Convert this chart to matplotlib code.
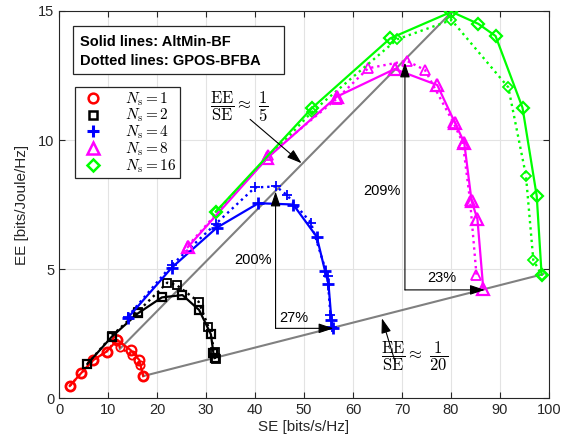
import matplotlib
matplotlib.use("Agg")
import matplotlib.pyplot as plt
from matplotlib.patches import Rectangle

plt.rcParams['font.family'] = ['Liberation Sans', 'DejaVu Sans']
plt.rcParams['mathtext.fontset'] = 'cm'

# ---- data (SE, EE) ----
# Ns = 1
r_sol_x = [2.2, 4.5, 7.0, 9.7, 11.9, 14.6, 16.4, 17.2]
r_sol_y = [0.47, 0.96, 1.47, 1.80, 2.25, 1.86, 1.47, 0.85]
r_dot_x = [2.2, 4.5, 7.0, 9.7, 11.9, 12.4, 14.8, 16.5, 17.2]
r_dot_y = [0.47, 0.96, 1.47, 1.80, 2.30, 1.96, 1.67, 1.28, 0.85]
# Ns = 2
k_sol_x = [5.8, 10.8, 16.1, 21.0, 25.2, 28.6, 31.0, 31.5, 31.8]
k_sol_y = [1.32, 2.38, 3.28, 3.90, 3.99, 3.41, 2.47, 1.76, 1.55]
k_dot_x = [5.8, 10.8, 16.1, 22.1, 24.0, 28.5, 30.5, 31.8, 32.0]
k_dot_y = [1.32, 2.42, 3.35, 4.47, 4.38, 3.73, 2.76, 1.80, 1.50]
# Ns = 4
b_sol_x = [14.0, 23.0, 32.2, 40.7, 47.8, 52.6, 54.3, 55.0, 55.6, 56.0]
b_sol_y = [3.10, 5.05, 6.60, 7.55, 7.50, 6.25, 4.92, 4.42, 3.02, 2.70]
b_dot_x = [14.0, 23.0, 32.0, 40.0, 44.3, 46.5, 51.4, 54.8, 55.4, 55.8]
b_dot_y = [3.15, 5.15, 6.75, 8.16, 8.20, 7.87, 6.80, 4.73, 3.20, 2.75]
# Ns = 8
m_sol_x = [26.3, 42.5, 56.7, 68.5, 77.2, 80.8, 82.7, 84.2, 85.4, 86.6]
m_sol_y = [5.85, 9.30, 11.68, 12.75, 12.13, 10.67, 9.90, 7.64, 6.93, 4.21]
m_dot_x = [26.3, 42.7, 56.7, 63.1, 71.0, 74.7, 80.5, 82.4, 83.9, 85.2]
m_dot_y = [5.90, 9.40, 11.60, 12.78, 13.07, 12.71, 10.67, 9.90, 7.64, 4.77]
# Ns = 16
g_sol_x = [32.0, 51.7, 67.6, 80.1, 85.6, 89.1, 94.6, 97.5, 98.5]
g_sol_y = [7.22, 11.25, 13.94, 14.97, 14.50, 14.03, 11.25, 7.83, 4.77]
g_dot_x = [32.0, 51.7, 69.0, 80.1, 91.7, 95.3, 96.8, 98.5]
g_dot_y = [7.22, 11.10, 13.90, 14.65, 12.04, 8.62, 5.35, 4.77]

# reference lines
line5_x = [12.4, 80.1]
line5_y = [1.90, 14.95]
line20_x = [17.2, 98.8]
line20_y = [0.85, 4.80]

labels = [r'$N_\mathrm{s} = 1$', r'$N_\mathrm{s} = 2$', r'$N_\mathrm{s} = 4$',
          r'$N_\mathrm{s} = 8$', r'$N_\mathrm{s} = 16$']

fig = plt.figure(figsize=(5.63, 4.47), dpi=100)
ax = fig.add_axes([0.1048, 0.1096, 0.8703, 0.8658])

ax.plot(line5_x, line5_y, color='#808080', lw=1.5, zorder=1)
ax.plot(line20_x, line20_y, color='#808080', lw=1.5, zorder=1)

series = [
    (r_sol_x, r_sol_y, r_dot_x, r_dot_y, '#ff0000', 'o'),
    (k_sol_x, k_sol_y, k_dot_x, k_dot_y, '#000000', 's'),
    (b_sol_x, b_sol_y, b_dot_x, b_dot_y, '#0000ff', '+'),
    (m_sol_x, m_sol_y, m_dot_x, m_dot_y, '#ff00ff', '^'),
    (g_sol_x, g_sol_y, g_dot_x, g_dot_y, '#00ff00', 'D'),
]
sizes = {'o': 7, 's': 6, '+': 9, '^': 8, 'D': 6}
mews = {'o': 1.6, 's': 1.6, '+': 2.0, '^': 1.6, 'D': 1.6}
handles = []
for (sx, sy, dx, dy, c, mk), lab in zip(series, labels):
    ms = sizes[mk]
    ax.plot(dx, dy, ls=':', color=c, lw=1.7, marker=mk, ms=ms * 0.85,
            mfc='none', mec=c, mew=1.3, zorder=2)
    ax.plot(sx, sy, ls='-', color=c, lw=1.6, marker=mk, ms=ms,
            mfc='none', mec=c, mew=mews[mk], zorder=3)
    h, = ax.plot([], [], ls='none', marker=mk, ms=ms, mfc='none', mec=c, mew=mews[mk] + 0.2)
    handles.append(h)

ax.set_xlim(0, 100)
ax.set_ylim(0, 15)
ax.set_xticks(range(0, 101, 10))
ax.set_yticks([0, 5, 10, 15])
ax.grid(True, color='#e3e3e3', lw=0.8)
ax.set_axisbelow(True)
ax.tick_params(direction='in', top=True, right=True, labelsize=10.5,
               colors='#262626', length=4)
for sp in ax.spines.values():
    sp.set_color('#262626')
    sp.set_linewidth(0.8)
ax.set_xlabel('SE [bits/s/Hz]', fontsize=11, color='#262626', labelpad=2)
ax.set_ylabel('EE [bits/Joule/Hz]', fontsize=11, color='#262626', labelpad=6)

# info box
ax.add_patch(Rectangle((0.0286, 0.837), 0.431, 0.124, transform=ax.transAxes,
                       fill=True, facecolor='white', edgecolor='#262626', lw=0.9, zorder=5))
ax.text(4.3, 13.8, 'Solid lines: AltMin-BF', fontsize=10.5, fontweight='bold',
        va='center', ha='left', zorder=6)
ax.text(4.3, 13.08, 'Dotted lines: GPOS-BFBA', fontsize=10.5, fontweight='bold',
        va='center', ha='left', zorder=6)

leg = ax.legend(handles, labels, loc='upper left', bbox_to_anchor=(0.0327, 0.8036),
                fontsize=11, frameon=True, fancybox=False, edgecolor='#262626',
                framealpha=1, borderpad=0.2, labelspacing=-0.05, handletextpad=1.1,
                handlelength=2.0, borderaxespad=0)
leg.get_frame().set_linewidth(0.9)

arrow = dict(arrowstyle='-|>,head_length=0.9,head_width=0.3', color='k', lw=0.8,
             shrinkA=0, shrinkB=0)

ax.annotate('', xy=(49.5, 9.1), xytext=(39.0, 10.8), arrowprops=arrow)
ax.text(36.9, 11.3, r'$\dfrac{\mathrm{EE}}{\mathrm{SE}} \approx \ \dfrac{1}{5}$',
        fontsize=12, ha='center', va='center')
ax.annotate('', xy=(65.9, 3.09), xytext=(68.6, 1.4), arrowprops=arrow)
ax.text(72.5, 1.63, r'$\dfrac{\mathrm{EE}}{\mathrm{SE}} \approx \ \dfrac{1}{20}$',
        fontsize=12, ha='center', va='center')

# Ns=4 arrows
ax.annotate('', xy=(44.2, 8.0), xytext=(44.2, 2.7), arrowprops=arrow)
ax.annotate('', xy=(56.0, 2.7), xytext=(44.2, 2.7), arrowprops=arrow)
ax.text(39.5, 5.35, '200%', fontsize=10.5, ha='center', va='center')
ax.text(48.0, 3.1, '27%', fontsize=10.5, ha='center', va='center')

# Ns=8 arrows
ax.annotate('', xy=(70.6, 13.0), xytext=(70.6, 4.19), arrowprops=arrow)
ax.annotate('', xy=(86.9, 4.19), xytext=(70.6, 4.19), arrowprops=arrow)
ax.text(65.9, 8.03, '209%', fontsize=10.5, ha='center', va='center')
ax.text(78.1, 4.64, '23%', fontsize=10.5, ha='center', va='center')

fig.savefig('out.png', dpi=100)
